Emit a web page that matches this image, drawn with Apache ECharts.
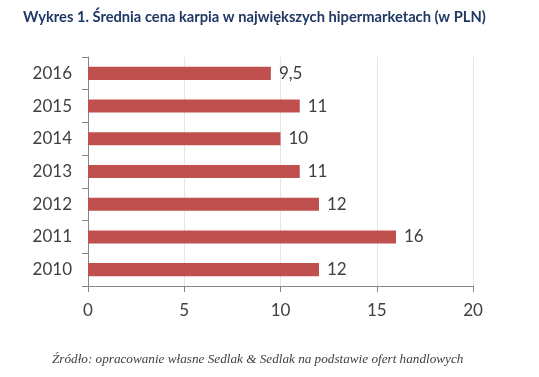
<!DOCTYPE html>
<html><head><meta charset="utf-8">
<script src="https://cdn.jsdelivr.net/npm/echarts@6/dist/echarts.min.js"></script>
<style>html,body{margin:0;padding:0;background:#fff}#c{width:539px;height:377px}</style>
</head><body><div id="c"></div>
<script>
var categories = ['2010','2011','2012','2013','2014','2015','2016'];
var values = [12, 16, 12, 11, 10, 11, 9.5];
var xTicks = {min: 0, max: 20, step: 5};
var titleText = 'Wykres 1. Średnia cena karpia w największych hipermarketach (w PLN)';
var sourceText = 'Źródło: opracowanie własne Sedlak & Sedlak na podstawie ofert handlowych';

var chart = echarts.init(document.getElementById('c'));
chart.setOption({
  animation: false,
  title: [{
    text: titleText, left: 18, top: 5,
    textStyle: {fontFamily: 'Lato', fontWeight: 'bold', fontSize: 14.7, color: '#1f3864'}
  }, {
    text: sourceText, left: 47, top: 348,
    textStyle: {fontFamily: 'Liberation Serif', fontStyle: 'italic', fontWeight: 'normal', fontSize: 13.2, color: '#404040'}
  }],
  grid: {left: 88, right: 66, top: 57, bottom: 91, containLabel: false},
  xAxis: {
    type: 'value', min: xTicks.min, max: xTicks.max, interval: xTicks.step,
    axisLine: {show: true, lineStyle: {color: '#868686'}},
    axisTick: {show: true, length: 6, lineStyle: {color: '#868686'}},
    axisLabel: {fontFamily: 'Lato', fontSize: 17, color: '#404040', margin: 16},
    splitLine: {show: true, lineStyle: {color: '#e6e6e6'}}
  },
  yAxis: {
    type: 'category', data: categories,
    axisLine: {show: true, lineStyle: {color: '#868686'}},
    axisTick: {show: true, length: 6, lineStyle: {color: '#868686'}},
    axisLabel: {fontFamily: 'Lato', fontSize: 17, color: '#404040', margin: 16}
  },
  series: [{
    type: 'bar', data: values, barWidth: '40%',
    itemStyle: {color: '#c0504d'},
    label: {show: true, position: 'right', distance: 8, fontFamily: 'Lato', fontSize: 17, color: '#404040',
      formatter: function(p){ return String(p.value).replace('.', ','); }}
  }]
});
</script></body></html>
